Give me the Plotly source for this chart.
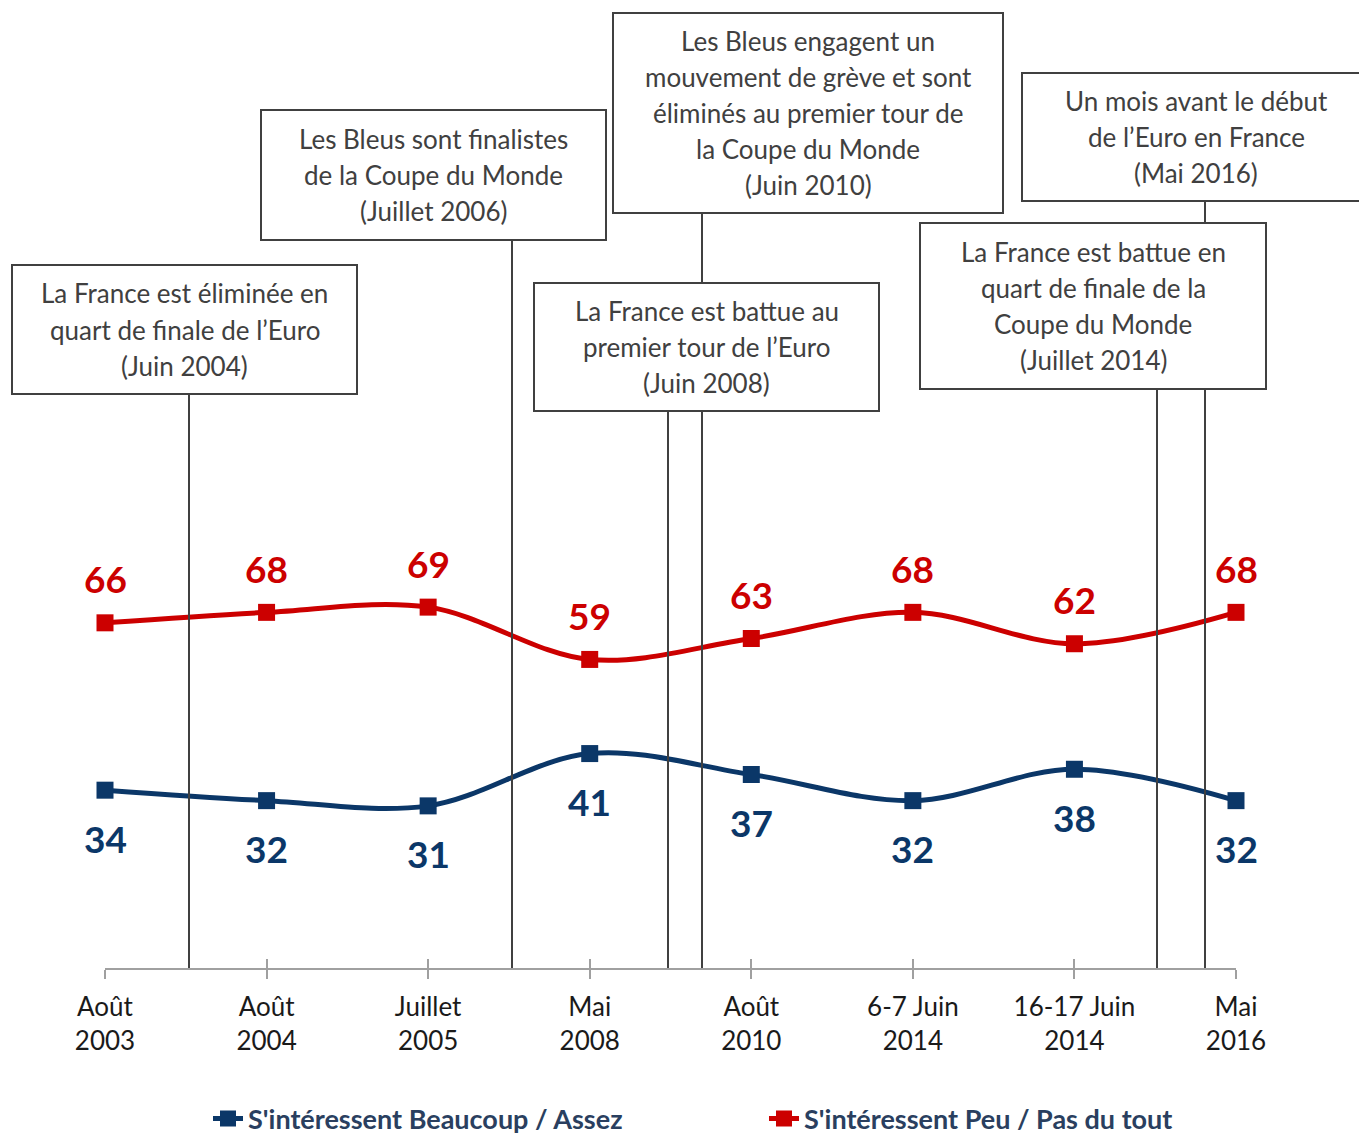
import plotly.graph_objects as go

# ---------------- data ----------------
periods = ["Août<br>2003", "Août<br>2004", "Juillet<br>2005", "Mai<br>2008",
           "Août<br>2010", "6-7 Juin<br>2014", "16-17 Juin<br>2014", "Mai<br>2016"]
interest_high = [34, 32, 31, 41, 37, 32, 38, 32]   # S'intéressent Beaucoup / Assez
interest_low = [66, 68, 69, 59, 63, 68, 62, 68]    # S'intéressent Peu / Pas du tout
name_high = "S'intéressent Beaucoup / Assez"
name_low = "S'intéressent Peu / Pas du tout"

events = [
    ["La France est éliminée en", "quart de finale de l’Euro", "(Juin 2004)"],
    ["Les Bleus sont finalistes", "de la Coupe du Monde", "(Juillet 2006)"],
    ["Les Bleus engagent un", "mouvement de grève et sont", "éliminés au premier tour de",
     "la Coupe du Monde", "(Juin 2010)"],
    ["La France est battue au", "premier tour de l’Euro", "(Juin 2008)"],
    ["Un mois avant le début", "de l’Euro en France", "(Mai 2016)"],
    ["La France est battue en", "quart de finale de la", "Coupe du Monde", "(Juillet 2014)"],
]

# ---------------- layout geometry (pixels) ----------------
W, H = 1359, 1139
L, R, T, B = 105, 123, 0, 171
PLOT_W = W - L - R
PLOT_H = H - T - B
AXIS_Y = H - B

# boxes: (x0, y0, x1, y1, event line x)
boxes = [
    (12, 265, 357, 394, 189),
    (261, 110, 606, 240, 512),
    (613, 13, 1003, 213, 702),
    (534, 283, 879, 411, 668),
    (1022, 73, 1365, 201, 1205),
    (920, 223, 1266, 389, 1157),
]
LINE_STEP = 36

RED = "#CC0000"
BLUE = "#0B3768"
GREY_TXT = "#404040"
FONT = "Lato"


def px(xp):
    return (xp - L) / PLOT_W


def py(yp):
    return (AXIS_Y - yp) / PLOT_H


ymax = PLOT_H / 5.23
xs = list(range(len(periods)))

fig = go.Figure()
fig.add_trace(go.Scatter(
    x=xs, y=interest_high, name=f"<b>{name_high}</b>", mode="lines+markers",
    line=dict(color=BLUE, width=5, shape="spline", smoothing=1),
    marker=dict(symbol="square", size=17, color=BLUE), cliponaxis=False,
    legendgroup="a",
))
fig.add_trace(go.Scatter(
    x=xs, y=interest_low, name=f"<b>{name_low}</b>", mode="lines+markers",
    line=dict(color=RED, width=5, shape="spline", smoothing=1),
    marker=dict(symbol="square", size=17, color=RED), cliponaxis=False,
    legendgroup="b",
))

annotations = []
for i, v in enumerate(interest_low):
    annotations.append(dict(x=i, y=v, xref="x", yref="y", text=f"<b>{v}</b>", showarrow=False,
                            yshift=44, font=dict(family=FONT, size=37, color=RED)))
for i, v in enumerate(interest_high):
    annotations.append(dict(x=i, y=v, xref="x", yref="y", text=f"<b>{v}</b>", showarrow=False,
                            yshift=-48, font=dict(family=FONT, size=37, color=BLUE)))

shapes = []
for (x0, y0, x1, y1, lx) in boxes:
    shapes.append(dict(type="line", xref="paper", yref="paper", x0=px(lx), x1=px(lx),
                       y0=py(AXIS_Y), y1=py(y1), line=dict(color=GREY_TXT, width=2), layer="above"))
for (x0, y0, x1, y1, lx), lines in zip(boxes, events):
    shapes.append(dict(type="rect", xref="paper", yref="paper", x0=px(x0), x1=px(x1),
                       y0=py(y1), y1=py(y0), line=dict(color=GREY_TXT, width=2),
                       fillcolor="white", layer="above"))
    cx = (x0 + x1) / 2 if x1 <= W else 1196
    cy = (y0 + y1) / 2
    n = len(lines)
    for k, t in enumerate(lines):
        yy = cy + (k - (n - 1) / 2) * LINE_STEP
        annotations.append(dict(x=px(cx), y=py(yy), xref="paper", yref="paper", text=t,
                                showarrow=False, xanchor="center", yanchor="middle",
                                font=dict(family=FONT, size=26, color=GREY_TXT)))

fig.update_layout(
    width=W, height=H,
    margin=dict(l=L, r=R, t=T, b=B, pad=0, autoexpand=False),
    paper_bgcolor="white", plot_bgcolor="white",
    showlegend=True,
    legend=dict(orientation="h", x=px(208), xanchor="left", y=py(1119), yanchor="middle",
                font=dict(family=FONT, size=27), entrywidth=511, entrywidthmode="pixels",
                bgcolor="rgba(0,0,0,0)", traceorder="normal"),
    xaxis=dict(range=[0, len(periods) - 1], tickvals=xs, ticktext=periods,
               showgrid=False, zeroline=False, showline=True, linecolor="#A0A0A0", linewidth=2,
               ticks="outside", ticklen=9, tickwidth=2, tickcolor="#A0A0A0",
               ticklabelstandoff=6,
               tickfont=dict(family=FONT, size=26, color="#1a1a1a")),
    xaxis2=dict(overlaying="x", matches="x", anchor="y", side="bottom", tickvals=xs,
                showticklabels=False, showgrid=False, zeroline=False, showline=False,
                ticks="inside", ticklen=9, tickwidth=2, tickcolor="#A0A0A0"),
    yaxis=dict(range=[0, ymax], visible=False, showgrid=False, zeroline=False),
    annotations=annotations,
    shapes=shapes,
)
fig.add_trace(go.Scatter(x=[0], y=[0], xaxis="x2", mode="markers", marker=dict(opacity=0),
                         showlegend=False, hoverinfo="skip"))

fig.write_html("out.html", config={"displayModeBar": False},
               post_script="document.body.style.margin='0';document.body.style.overflow='hidden';")
